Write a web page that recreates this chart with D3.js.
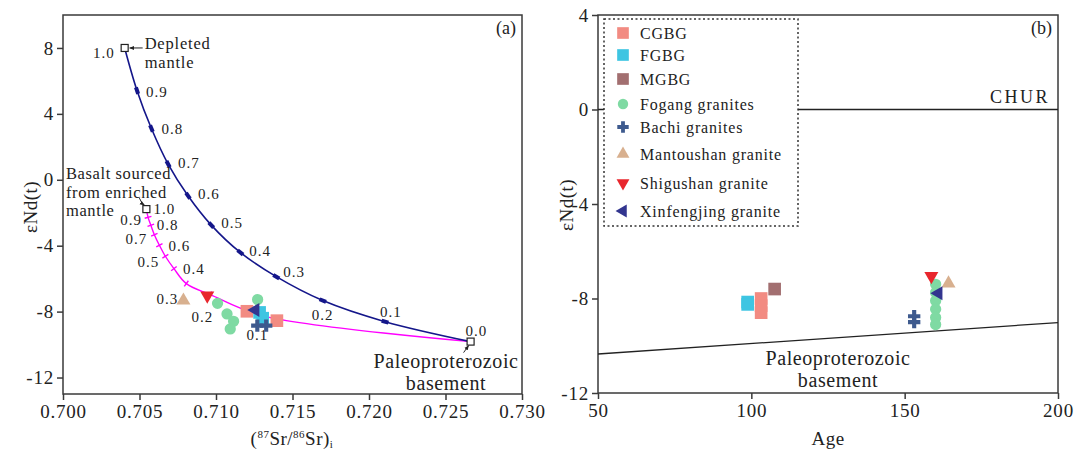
<!DOCTYPE html>
<html>
<head>
<meta charset="utf-8">
<script src="https://cdn.jsdelivr.net/npm/d3@7"></script>
<style>
  body { margin: 0; background: #fff; }
  text { font-family: "Liberation Serif", "Times New Roman", serif; fill: #222; }
</style>
</head>
<body>
<div class="chart"></div>
<script>
// ---- data: panel (a) mixing curves, fraction of mantle end-member
const mixFractions = [1.0, 0.9, 0.8, 0.7, 0.6, 0.5, 0.4, 0.3, 0.2, 0.1, 0.0];
const depletedSr = [0.70403, 0.70484, 0.70578, 0.70687, 0.70817, 0.70969, 0.71159, 0.71394, 0.71698, 0.72105, 0.72664];
const depletedNd = [8.0, 5.41, 3.11, 0.95, -0.97, -2.75, -4.41, -5.88, -7.33, -8.61, -9.82];
const enrichedSr = [0.70545, 0.70556, 0.70574, 0.70597, 0.7063, 0.70669, 0.70725, 0.70806, 0.70963, 0.71302, 0.72664];
const enrichedNd = [-1.78, -2.28, -2.76, -3.33, -3.97, -4.64, -5.39, -6.30, -6.97, -8.24, -9.82];

// ---- data: panel (a) samples (87Sr/86Sr)i vs eNd(t)
const cgbgSr = [0.71202, 0.71398];
const cgbgNd = [-7.98, -8.55];
const fgbgSr = [0.71285, 0.71305];
const fgbgNd = [-8.05, -8.4];
const fogangSr = [0.7101, 0.71072, 0.71115, 0.71093, 0.71272];
const fogangNd = [-7.5, -8.14, -8.59, -9.05, -7.27];
const bachiSr = [0.7127, 0.71328];
const bachiNd = [-8.85, -8.85];
const mantoushanSr = [0.70787];
const mantoushanNd = [-7.33];
const shigushanSr = [0.70943];
const shigushanNd = [-7.03];
const xinfengjingSr = [0.71257];
const xinfengjingNd = [-7.9];

// ---- data: panel (b) samples age vs eNd(t)
const cgbgAge = [103.2, 103.2, 103.2];
const cgbgNdB = [-8.0, -8.3, -8.6];
const fgbgAge = [98.8, 98.8];
const fgbgNdB = [-8.15, -8.25];
const mgbgAge = [107.6];
const mgbgNdB = [-7.6];
const fogangAge = [160.1, 160.1, 160.1, 160.1, 160.1, 160.1];
const fogangNdB = [-7.4, -7.75, -8.1, -8.45, -8.8, -9.1];
const bachiAge = [153.1, 153.1];
const bachiNdB = [-8.75, -9.0];
const mantoushanAge = [164.3];
const mantoushanNdB = [-7.36];
const shigushanAge = [158.7];
const shigushanNdB = [-7.05];
const xinfengjingAge = [161.0];
const xinfengjingNdB = [-7.78];

// reference lines in panel (b)
const churAge = [50, 200];
const churNd = [0, 0];
const basementAge = [50, 200];
const basementNd = [-10.35, -9.02];

const legendNames = ["CGBG", "FGBG", "MGBG", "Fogang granites", "Bachi granites",
  "Mantoushan granite", "Shigushan granite", "Xinfengjing granite"];

// ---- styles
const colors = {
  CGBG: "#f28b82", FGBG: "#3ec5e2", MGBG: "#a26f70", Fogang: "#7fdaa3",
  Bachi: "#3e5a8e", Mantoushan: "#d8b08f", Shigushan: "#e8262d", Xinfengjing: "#32358f"
};
const shapes = {
  CGBG: [d3.symbolSquare, 0], FGBG: [d3.symbolSquare, 0], MGBG: [d3.symbolSquare, 0],
  Fogang: [d3.symbolCircle, 0], Bachi: [d3.symbolCross, 0], Mantoushan: [d3.symbolTriangle, 0],
  Shigushan: [d3.symbolTriangle, 180], Xinfengjing: [d3.symbolTriangle, -90]
};
const sizes = { square: 160, circle: 100, cross: 85, triangle: 85 };
function symSize(key) {
  const t = shapes[key][0];
  if (t === d3.symbolSquare) return sizes.square;
  if (t === d3.symbolCircle) return sizes.circle;
  if (t === d3.symbolCross) return sizes.cross;
  return sizes.triangle;
}
const frameColor = "#3a3a3a";

const svg = d3.select(".chart").append("svg")
  .attr("width", 1075)
  .attr("height", 450);

svg.append("defs").append("marker")
  .attr("id", "arrow")
  .attr("viewBox", "0 0 10 10")
  .attr("refX", 9).attr("refY", 5)
  .attr("markerWidth", 5).attr("markerHeight", 5)
  .attr("orient", "auto")
  .append("path")
  .attr("d", "M0,1 L10,5 L0,9 z")
  .attr("fill", "#222");

function frame(g, x, y, w, h) {
  g.append("rect")
    .attr("x", x).attr("y", y).attr("width", w).attr("height", h)
    .attr("fill", "none").attr("stroke", frameColor).attr("stroke-width", 1.5);
}

function styleAxis(g) {
  g.select(".domain").remove();
  g.selectAll(".tick line").attr("stroke", frameColor).attr("stroke-width", 1.5);
  g.selectAll(".tick text")
    .attr("fill", "#222")
    .style("font-family", '"Liberation Serif", serif')
    .style("font-size", "19px")
    .style("letter-spacing", "0.8px");
}

function drawPoints(g, xs, ys, key, xScale, yScale) {
  const pts = xs.map((v, i) => [v, ys[i]]);
  const [type, rot] = shapes[key];
  g.selectAll(null)
    .data(pts)
    .enter()
    .append("path")
    .attr("d", d3.symbol().type(type).size(symSize(key)))
    .attr("transform", d => `translate(${xScale(d[0])},${yScale(d[1])}) rotate(${rot})`)
    .attr("fill", colors[key]);
}

// =================== PANEL (a) ===================
const a = { left: 63, right: 522, top: 15, bottom: 394 };
const xA = d3.scaleLinear().domain([0.700, 0.730]).range([a.left, a.right]);
const yA = d3.scaleLinear().domain([-13, 10]).range([a.bottom, a.top]);
const gA = svg.append("g");

gA.append("g")
  .attr("transform", `translate(0,${a.bottom})`)
  .call(d3.axisBottom(xA).tickValues(d3.range(0.700, 0.7301, 0.005))
    .tickFormat(d3.format(".3f")).tickSize(6).tickPadding(5).tickSizeOuter(0))
  .call(styleAxis);
gA.append("g")
  .attr("transform", `translate(${a.left},0)`)
  .call(d3.axisLeft(yA).tickValues([8, 4, 0, -4, -8, -12])
    .tickFormat(d => String(d)).tickSize(6).tickPadding(3).tickSizeOuter(0))
  .call(styleAxis);
frame(gA, a.left, a.top, a.right - a.left, a.bottom - a.top);

// mixing curves
const lineA = d3.line().x(d => xA(d[0])).y(d => yA(d[1])).curve(d3.curveCatmullRom.alpha(0.5));
const depletedPts = depletedSr.map((v, i) => [v, depletedNd[i]]);
const enrichedPts = enrichedSr.map((v, i) => [v, enrichedNd[i]]);

gA.append("path").datum(enrichedPts).attr("d", lineA)
  .attr("fill", "none").attr("stroke", "#ff00ff").attr("stroke-width", 1.4);
gA.append("path").datum(depletedPts).attr("d", lineA)
  .attr("fill", "none").attr("stroke", "#14168a").attr("stroke-width", 1.6);

// tick marks on curves
function tickAngle(pts, i) {
  const p0 = pts[Math.max(0, i - 1)], p1 = pts[Math.min(pts.length - 1, i + 1)];
  return Math.atan2(yA(p1[1]) - yA(p0[1]), xA(p1[0]) - xA(p0[0])) * 180 / Math.PI;
}
gA.selectAll(null)
  .data(depletedPts.slice(1, -1))
  .enter().append("rect")
  .attr("x", -3.5).attr("y", -2).attr("width", 7).attr("height", 4)
  .attr("fill", "#14168a")
  .attr("transform", (d, i) => `translate(${xA(d[0])},${yA(d[1])}) rotate(${tickAngle(depletedPts, i + 1)})`);
gA.selectAll(null)
  .data(enrichedPts.slice(1, -1))
  .enter().append("line")
  .attr("x1", 0).attr("x2", 0).attr("y1", -3.5).attr("y2", 3.5)
  .attr("stroke", "#ff00ff").attr("stroke-width", 1.4)
  .attr("transform", (d, i) => `translate(${xA(d[0])},${yA(d[1])}) rotate(${tickAngle(enrichedPts, i + 1)})`);

// end-member open squares
const endMembers = [depletedPts[0], enrichedPts[0], depletedPts[depletedPts.length - 1]];
gA.selectAll(null)
  .data(endMembers)
  .enter().append("rect")
  .attr("x", d => xA(d[0]) - 3.5).attr("y", d => yA(d[1]) - 3.5)
  .attr("width", 7).attr("height", 7)
  .attr("fill", "#fff").attr("stroke", "#222").attr("stroke-width", 1.2);

// fraction labels (offsets relative to each tick)
const blueLabelOffsets = [[-10, 10, "end"], [9, 6, "start"], [10, 5, "start"], [10, 4, "start"],
  [10, 3, "start"], [10, 3, "start"], [9, 4, "start"], [7, 0, "start"], [-11, 19, "start"],
  [-5, -5, "start"], [-5, -6, "start"]];
const pinkLabelOffsets = [[7, 4.5, "start"], [-6, 7.5, "end"], [6, 5, "start"], [-7, 9, "end"],
  [9, 5.5, "start"], [-6, 10.5, "end"], [9, 5, "start"], [-8, 20, "end"], [3, 27, "end"],
  [6, 24, "end"]];
const fmtFrac = d3.format(".1f");

gA.selectAll(null)
  .data(depletedPts)
  .enter().append("text")
  .attr("x", (d, i) => xA(d[0]) + blueLabelOffsets[i][0])
  .attr("y", (d, i) => yA(d[1]) + blueLabelOffsets[i][1])
  .attr("text-anchor", (d, i) => blueLabelOffsets[i][2])
  .style("font-size", "15px").style("letter-spacing", "1px")
  .text((d, i) => fmtFrac(mixFractions[i]));
gA.selectAll(null)
  .data(enrichedPts.slice(0, -1))
  .enter().append("text")
  .attr("x", (d, i) => xA(d[0]) + pinkLabelOffsets[i][0])
  .attr("y", (d, i) => yA(d[1]) + pinkLabelOffsets[i][1])
  .attr("text-anchor", (d, i) => pinkLabelOffsets[i][2])
  .style("font-size", "15px").style("letter-spacing", "1px")
  .text((d, i) => fmtFrac(mixFractions[i]));

// annotations
function multiText(g, x, y, lines, anchor, size, ls, lh) {
  const t = g.append("text").attr("text-anchor", anchor)
    .style("font-size", size + "px").style("letter-spacing", ls + "px");
  lines.forEach((s, i) => t.append("tspan").attr("x", x).attr("y", y + i * lh).text(s));
}
const dm = depletedPts[0], em = enrichedPts[0], bm = depletedPts[depletedPts.length - 1];
multiText(gA, xA(dm[0]) + 20, yA(dm[1]) + 1, ["Depleted", "mantle"], "start", 16.5, 0.8, 19);
gA.append("line")
  .attr("x1", xA(dm[0]) + 18).attr("y1", yA(dm[1]))
  .attr("x2", xA(dm[0]) + 5).attr("y2", yA(dm[1]))
  .attr("stroke", "#222").attr("stroke-width", 1).attr("marker-end", "url(#arrow)");

multiText(gA, 66, 179, ["Basalt sourced", "from enriched", "mantle"], "start", 16.5, 0.6, 18.5);
gA.append("path")
  .attr("d", `M${xA(em[0]) - 7},${yA(em[1]) - 11} Q${xA(em[0]) - 5},${yA(em[1]) - 6} ${xA(em[0]) - 2},${yA(em[1]) - 4}`)
  .attr("fill", "none").attr("stroke", "#222").attr("stroke-width", 1).attr("marker-end", "url(#arrow)");

multiText(gA, 446, 368, ["Paleoproterozoic", "basement"], "middle", 20, 0.6, 21.5);
gA.append("line")
  .attr("x1", xA(bm[0]) - 7).attr("y1", yA(bm[1]) + 11)
  .attr("x2", xA(bm[0]) - 2).attr("y2", yA(bm[1]) + 4)
  .attr("stroke", "#222").attr("stroke-width", 1).attr("marker-end", "url(#arrow)");

// samples in (a)
drawPoints(gA, mantoushanSr, mantoushanNd, "Mantoushan", xA, yA);
drawPoints(gA, shigushanSr, shigushanNd, "Shigushan", xA, yA);
drawPoints(gA, fogangSr, fogangNd, "Fogang", xA, yA);
drawPoints(gA, cgbgSr, cgbgNd, "CGBG", xA, yA);
drawPoints(gA, fgbgSr, fgbgNd, "FGBG", xA, yA);
drawPoints(gA, xinfengjingSr, xinfengjingNd, "Xinfengjing", xA, yA);
drawPoints(gA, bachiSr, bachiNd, "Bachi", xA, yA);

gA.append("text").attr("x", 516).attr("y", 34).attr("text-anchor", "end")
  .style("font-size", "18px").text("(a)");

gA.append("text")
  .attr("transform", "translate(30,207) rotate(-90)")
  .attr("text-anchor", "middle").attr("dy", "0.35em")
  .style("font-size", "19px").style("letter-spacing", "0.5px")
  .text("εNd(t)");

const xTitleA = gA.append("text").attr("x", 292).attr("y", 445)
  .attr("text-anchor", "middle").style("font-size", "19px").style("letter-spacing", "0.5px");
xTitleA.append("tspan").text("(");
xTitleA.append("tspan").attr("dy", -7).style("font-size", "11px").text("87");
xTitleA.append("tspan").attr("dy", 7).text("Sr/");
xTitleA.append("tspan").attr("dy", -7).style("font-size", "11px").text("86");
xTitleA.append("tspan").attr("dy", 7).text("Sr)");
xTitleA.append("tspan").attr("dy", 3).style("font-size", "11px").text("i");

// =================== PANEL (b) ===================
const b = { left: 598, right: 1058, top: 15, bottom: 393 };
const xB = d3.scaleLinear().domain([50, 200]).range([b.left, b.right]);
const yB = d3.scaleLinear().domain([-12, 4]).range([b.bottom, b.top]);
const gB = svg.append("g");

gB.append("g")
  .attr("transform", `translate(0,${b.bottom})`)
  .call(d3.axisBottom(xB).tickValues([50, 100, 150, 200])
    .tickFormat(d => String(d)).tickSize(6).tickPadding(5).tickSizeOuter(0))
  .call(styleAxis);
gB.append("g")
  .attr("transform", `translate(${b.left},0)`)
  .call(d3.axisLeft(yB).tickValues([4, 0, -4, -8, -12])
    .tickFormat(d => String(d)).tickSize(6).tickPadding(3).tickSizeOuter(0))
  .call(styleAxis);
frame(gB, b.left, b.top, b.right - b.left, b.bottom - b.top);

const lineB = d3.line().x(d => xB(d[0])).y(d => yB(d[1]));
gB.append("path").datum(churAge.map((v, i) => [v, churNd[i]])).attr("d", lineB)
  .attr("fill", "none").attr("stroke", "#222").attr("stroke-width", 1.3);
gB.append("path").datum(basementAge.map((v, i) => [v, basementNd[i]])).attr("d", lineB)
  .attr("fill", "none").attr("stroke", "#222").attr("stroke-width", 1.3);

gB.append("text").attr("x", 1050).attr("y", 103).attr("text-anchor", "end")
  .style("font-size", "18px").style("letter-spacing", "2.5px").text("CHUR");
multiText(gB, 838, 365, ["Paleoproterozoic", "basement"], "middle", 20, 0.6, 21.5);
gB.append("text").attr("x", 1052).attr("y", 34).attr("text-anchor", "end")
  .style("font-size", "18px").text("(b)");

drawPoints(gB, fogangAge, fogangNdB, "Fogang", xB, yB);
drawPoints(gB, cgbgAge, cgbgNdB, "CGBG", xB, yB);
drawPoints(gB, fgbgAge, fgbgNdB, "FGBG", xB, yB);
drawPoints(gB, mgbgAge, mgbgNdB, "MGBG", xB, yB);
drawPoints(gB, bachiAge, bachiNdB, "Bachi", xB, yB);
drawPoints(gB, mantoushanAge, mantoushanNdB, "Mantoushan", xB, yB);
drawPoints(gB, shigushanAge, shigushanNdB, "Shigushan", xB, yB);
drawPoints(gB, xinfengjingAge, xinfengjingNdB, "Xinfengjing", xB, yB);

gB.append("text")
  .attr("transform", "translate(566,205) rotate(-90)")
  .attr("text-anchor", "middle").attr("dy", "0.35em")
  .style("font-size", "19px").style("letter-spacing", "0.5px")
  .text("εNd(t)");
gB.append("text").attr("x", 828).attr("y", 445).attr("text-anchor", "middle")
  .style("font-size", "19px").style("letter-spacing", "0.5px").text("Age");

// legend (white box hides the CHUR line behind it)
const legendKeys = ["CGBG", "FGBG", "MGBG", "Fogang", "Bachi", "Mantoushan", "Shigushan", "Xinfengjing"];
const legendRowY = [33, 55, 79, 104, 127, 154, 183, 211];
const legend = gB.append("g");
legend.append("rect")
  .attr("x", 604).attr("y", 19).attr("width", 194).attr("height", 207)
  .attr("fill", "#fff").attr("stroke", "#333").attr("stroke-width", 1.5)
  .attr("stroke-dasharray", "2,2.5");
const rows = legend.selectAll(null)
  .data(legendKeys)
  .enter().append("g")
  .attr("transform", (d, i) => `translate(623,${legendRowY[i]})`);
rows.append("path")
  .attr("d", d => d3.symbol().type(shapes[d][0]).size(symSize(d) * 0.85)())
  .attr("transform", d => `rotate(${shapes[d][1]})`)
  .attr("fill", d => colors[d]);
rows.append("text")
  .attr("x", 17).attr("y", 5.5)
  .style("font-size", "16px").style("letter-spacing", "0.8px")
  .text((d, i) => legendNames[i]);
</script>
</body>
</html>
